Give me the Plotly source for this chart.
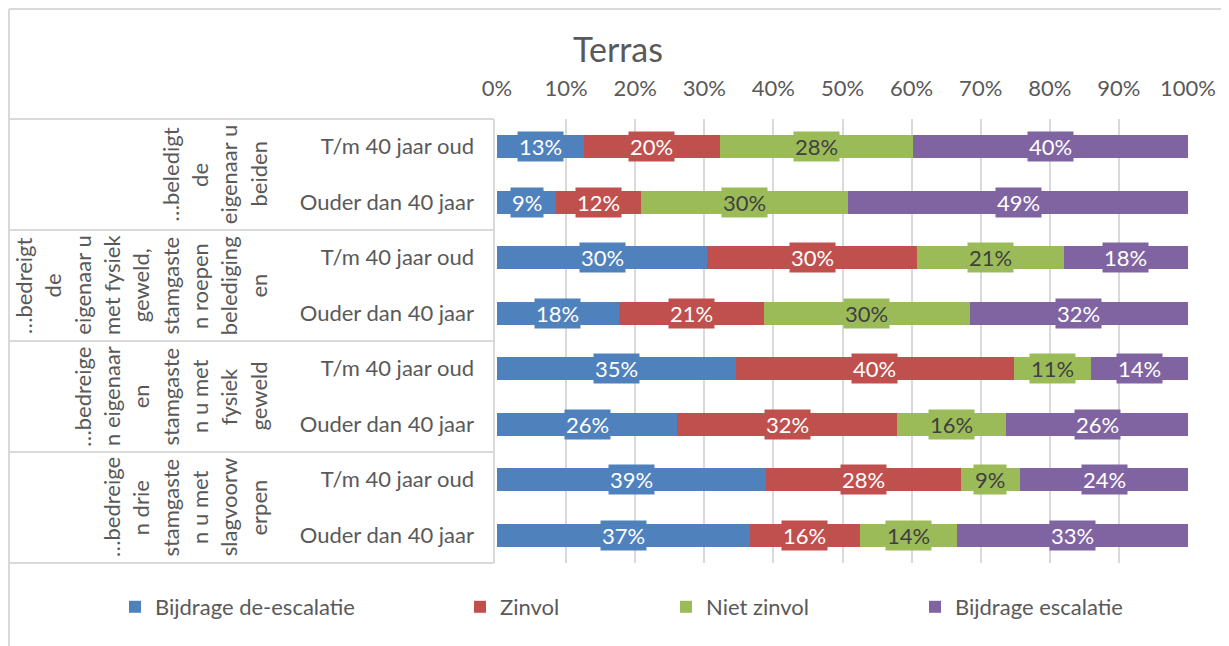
import plotly.graph_objects as go

# ---------------- data ----------------
series_names = ["Bijdrage de-escalatie", "Zinvol", "Niet zinvol", "Bijdrage escalatie"]
series_colors = ["#4F81BD", "#C0504D", "#9BBB59", "#8064A2"]
label_colors = ["#FFFFFF", "#FFFFFF", "#404040", "#FFFFFF"]

age_labels = ["T/m 40 jaar oud", "Ouder dan 40 jaar"]

group_lines = [
    ["…beledigt", "de", "eigenaar u", "beiden"],
    ["…bedreigt", "de", "eigenaar u", "met fysiek", "geweld,", "stamgaste", "n roepen", "belediging", "en"],
    ["…bedreige", "n eigenaar", "en", "stamgaste", "n u met", "fysiek", "geweld"],
    ["…bedreige", "n drie", "stamgaste", "n u met", "slagvoorw", "erpen"],
]

# rows: group1 T/m, group1 Ouder, group2 T/m, ...
deescalatie = [12.6, 8.6, 30.4, 17.6, 34.6, 26.1, 38.9, 36.6]
zinvol      = [19.6, 12.3, 30.4, 21.0, 40.2, 31.8, 28.2, 15.9]
niet_zinvol = [28.0, 29.9, 21.2, 29.8, 11.2, 15.8, 8.6, 14.1]
escalatie   = [39.8, 49.2, 18.0, 31.6, 14.0, 26.3, 24.3, 33.4]

x_ticks = list(range(0, 101, 10))

# ---------------- layout constants ----------------
OFF = 8                      # page body margin
W, H = 1229 - OFF, 646 - OFF
PL, PR = 497 - OFF, 1188 - OFF   # plot area left/right (figure px)
PT, PB = 119 - OFF, 563 - OFF    # plot area top/bottom (figure px)
FONT = "Lato"
GREY = "#595959"
LINE = "#D9D9D9"
FS = 22


def px_x(p):
    """page pixel x -> paper fraction"""
    return (p - OFF - PL) / (PR - PL)


def px_y(p):
    """page pixel y -> paper fraction"""
    return (PB - (p - OFF)) / (PB - PT)


series = [deescalatie, zinvol, niet_zinvol, escalatie]
n_rows = len(deescalatie)
y_pos = [g * 2 + a for g in range(len(group_lines)) for a in range(len(age_labels))]
tick_text = [age_labels[a] for g in range(len(group_lines)) for a in range(len(age_labels))]

fig = go.Figure()
legend_ids = ["legend", "legend2", "legend3", "legend4"]
for i, (name, vals) in enumerate(zip(series_names, series)):
    fig.add_trace(go.Bar(
        y=y_pos, x=vals, name=name, orientation="h",
        marker=dict(color=series_colors[i], line=dict(width=0)),
        width=0.41, legend=legend_ids[i], hoverinfo="x+name",
    ))

annotations = []
# data labels with coloured boxes
for r in range(n_rows):
    cum = 0.0
    for i, vals in enumerate(series):
        v = vals[r]
        annotations.append(dict(
            x=cum + v / 2, y=y_pos[r], xref="x", yref="y",
            text=f"{round(v)}%", showarrow=False,
            font=dict(family=FONT, size=FS, color=label_colors[i]),
            bgcolor=series_colors[i], borderpad=1,
        ))
        cum += v

# group labels (rotated, one annotation per wrapped line)
line_gap = 29.3
right_line_x = 258
for g, lines in enumerate(group_lines):
    yc = (g * 2 + 0.5)  # group centre in category units
    yc_paper = 1 - (yc + 0.5) / n_rows
    n = len(lines)
    for k, t in enumerate(lines):
        xpx = right_line_x - (n - 1 - k) * line_gap
        annotations.append(dict(
            x=px_x(xpx), y=yc_paper, xref="paper", yref="paper",
            text=t, showarrow=False, textangle=-90,
            xanchor="center", yanchor="middle",
            font=dict(family=FONT, size=FS, color=GREY),
        ))

shapes = []
# chart border (top and left)
shapes.append(dict(type="line", xref="paper", yref="paper",
                   x0=px_x(OFF + 1), x1=px_x(1229 + 5), y0=px_y(OFF + 1), y1=px_y(OFF + 1),
                   line=dict(color=LINE, width=2)))
shapes.append(dict(type="line", xref="paper", yref="paper",
                   x0=px_x(OFF + 1), x1=px_x(OFF + 1), y0=px_y(OFF + 1), y1=px_y(646 + 5),
                   line=dict(color=LINE, width=2)))
# table separators between groups
for g in range(len(group_lines) + 1):
    ysep = 1 - (g * 2) / n_rows
    shapes.append(dict(type="line", xref="paper", yref="paper",
                       x0=px_x(OFF + 1), x1=px_x(494), y0=ysep, y1=ysep,
                       line=dict(color=LINE, width=2)))
shapes.append(dict(type="line", xref="paper", yref="paper",
                   x0=px_x(494), x1=px_x(494), y0=0, y1=1,
                   line=dict(color=LINE, width=2)))

legend_text_x = [155, 500, 706, 955]
legends = {}
for i, lid in enumerate(legend_ids):
    legends[lid] = dict(
        x=px_x(legend_text_x[i] - 40), y=px_y(607), xref="paper", yref="paper",
        xanchor="left", yanchor="middle", orientation="h",
        font=dict(family=FONT, size=FS, color=GREY),
        bgcolor="rgba(0,0,0,0)", borderwidth=0,
    )

fig.update_layout(
    width=W, height=H,
    margin=dict(l=PL, r=W - PR, t=PT, b=H - PB, pad=0),
    paper_bgcolor="white", plot_bgcolor="white",
    barmode="stack", bargap=0,
    showlegend=True,
    title=dict(text="Terras", x=(618 - OFF) / W, xref="container", xanchor="center",
               y=1 - (50 - OFF) / H, yref="container", yanchor="middle",
               font=dict(family=FONT, size=34, color=GREY)),
    font=dict(family=FONT, size=FS, color=GREY),
    xaxis=dict(range=[0, 100], side="top", tickvals=x_ticks,
               ticktext=[f"{t}%" for t in x_ticks],
               showgrid=True, gridcolor=LINE, gridwidth=2,
               zeroline=False, showline=False, ticks="",
               ticklabelstandoff=18,
               tickfont=dict(family=FONT, size=FS, color=GREY), fixedrange=True),
    yaxis=dict(range=[n_rows - 0.5, -0.5], tickvals=y_pos, ticktext=tick_text,
               showgrid=False, zeroline=False, showline=False, ticks="",
               ticklabelstandoff=22,
               tickfont=dict(family=FONT, size=FS, color=GREY), fixedrange=True),
    annotations=annotations,
    shapes=shapes,
    **legends,
)

fig.write_html("out.html")
